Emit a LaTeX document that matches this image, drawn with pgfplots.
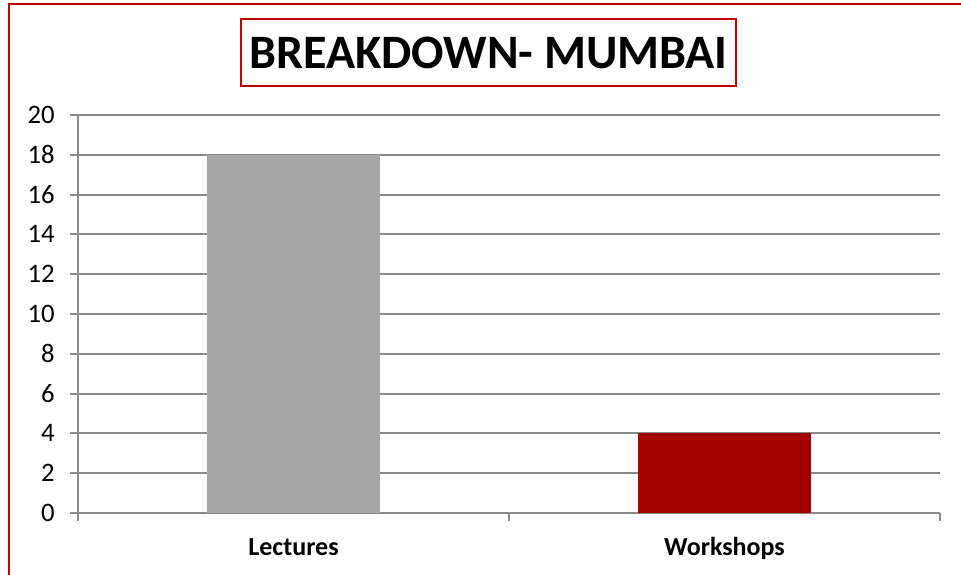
\documentclass[border=0pt]{standalone}
\usepackage{fontspec}
\setmainfont{Carlito}
\usepackage{pgfplots}
\pgfplotsset{compat=1.18}
\definecolor{barGray}{HTML}{A6A6A6}
\definecolor{barRed}{HTML}{A50000}
\definecolor{frameRed}{HTML}{C00000}
\definecolor{gridGray}{HTML}{8A8A8A}

\begin{document}
\begin{tikzpicture}[x=0.75pt,y=0.75pt]
    \useasboundingbox (0,0) rectangle (961,575);
    % outer frame (only left and top edges show)
    \draw[frameRed, line width=2.2pt] (9,0) -- (9,571) -- (961,571);
    % title in its box
    \node[draw=frameRed, line width=1.4pt, minimum width=495*0.75pt, minimum height=67*0.75pt,
          inner sep=0pt, font=\fontsize{36}{40}\selectfont\bfseries]
          at (488.5,522.5) {BREAKDOWN- MUMBAI};

    \begin{axis}[
        at={(58.5pt,46.5pt)}, anchor=south west,
        scale only axis,
        width=862*0.75pt, height=398*0.75pt,
        ybar, bar width=0.4, bar shift=0pt,
        xmin=-0.5, xmax=1.5,
        ymin=0, ymax=20,
        ytick={0,2,...,20},
        xtick={0,1},
        xticklabels={Lectures, Workshops},
        xticklabel style={font=\fontsize{19.5}{22}\selectfont\bfseries,
            text height=13pt, text depth=4pt, yshift=-9.5pt},
        major x tick style={draw=none},
        extra x ticks={-0.5,0.5,1.5},
        extra x tick labels={},
        extra x tick style={grid=none, major tick length=6pt,
            major x tick style={draw=gridGray, line width=1.5pt}},
        tick align=outside,
        major tick length=6pt,
        ymajorgrids,
        grid style={gridGray, line width=1.5pt},
        axis x line*=bottom,
        axis y line*=left,
        axis line style={gridGray, line width=1.5pt},
        y tick style={gridGray, line width=1.5pt},
        yticklabel style={font=\fontsize{20}{22}\selectfont, xshift=-8pt},
        /pgf/number format/assume math mode=true,
        clip=false,
    ]
    \addplot[fill=barGray, draw=none] coordinates {(0,18)};
    \addplot[fill=barRed, draw=none] coordinates {(1,4)};
    \end{axis}
\end{tikzpicture}
\end{document}
